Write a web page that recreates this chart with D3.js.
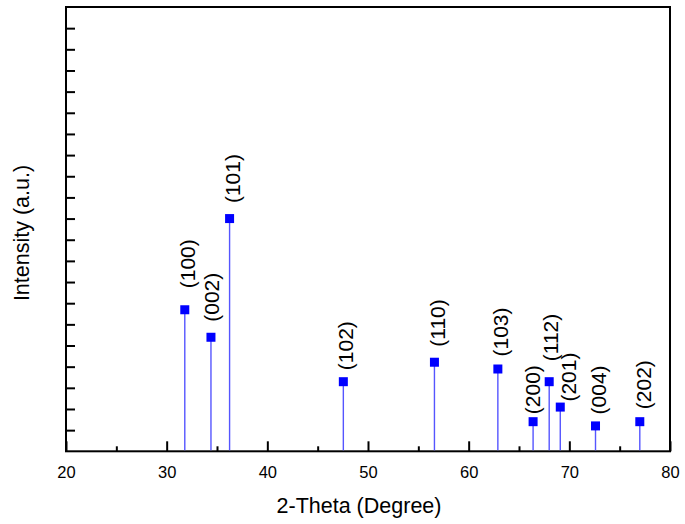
<!DOCTYPE html>
<html>
<head>
<meta charset="utf-8">
<script src="https://cdn.jsdelivr.net/npm/d3@7/dist/d3.min.js"></script>
<style>
  html, body { margin: 0; padding: 0; background: #fff; }
  svg { display: block; font-family: "Liberation Sans", Arial, sans-serif; }
</style>
</head>
<body>
<svg id="chart" width="685" height="524"></svg>
<script>
// ---- data ----
const planes = ["(100)", "(002)", "(101)", "(102)", "(110)", "(103)", "(200)", "(112)", "(201)", "(004)", "(202)"];
const twoTheta = [31.8, 34.4, 36.25, 47.55, 56.6, 62.9, 66.4, 68.0, 69.1, 72.6, 77.0];
const intensity = [6.69, 5.39, 11.0, 3.29, 4.21, 3.89, 1.40, 3.29, 2.09, 1.20, 1.40];
const xTicks = [20, 30, 40, 50, 60, 70, 80];
const xMinorTicks = [25, 35, 45, 55, 65, 75];
const yTicks = d3.range(1, 21);

// ---- layout (label nudges in px, not data) ----
const labelNudge = {
  "(100)": [0, -8], "(002)": [-2, -2], "(101)": [0, -2], "(102)": [0, 2],
  "(110)": [1, -2], "(103)": [0, 1], "(200)": [-3, 6], "(112)": [-1, -7],
  "(201)": [6, 8], "(004)": [0, 2], "(202)": [1, 1]
};

const svg = d3.select("#chart");
const L = 66, R = 670, T = 7, B = 451.3;
const x = d3.scaleLinear().domain([20, 80]).range([L, R]);
const y = d3.scaleLinear().domain([0, 21]).range([B, T]);

// y ticks (inward)
svg.append("g")
  .attr("transform", `translate(${L},0)`)
  .call(d3.axisLeft(y).tickValues(yTicks).tickSize(-9).tickFormat(""))
  .call(g => g.select(".domain").remove())
  .call(g => g.selectAll("line").attr("stroke", "#000").attr("stroke-width", 2));

// x major ticks (inward)
svg.append("g")
  .attr("transform", `translate(0,${B})`)
  .call(d3.axisBottom(x).tickValues(xTicks).tickSize(-10).tickPadding(15).tickFormat(d3.format("d")))
  .call(g => g.select(".domain").remove())
  .call(g => g.selectAll("line").attr("stroke", "#000").attr("stroke-width", 2))
  .call(g => g.selectAll("text").attr("font-size", 16.5).attr("fill", "#000")
        .attr("font-family", "Liberation Sans, Arial, sans-serif"));

// x minor ticks
svg.append("g")
  .attr("transform", `translate(0,${B})`)
  .call(d3.axisBottom(x).tickValues(xMinorTicks).tickSize(-5).tickFormat(""))
  .call(g => g.select(".domain").remove())
  .call(g => g.selectAll("line").attr("stroke", "#000").attr("stroke-width", 2));

// frame
svg.append("rect")
  .attr("x", L).attr("y", T).attr("width", R - L).attr("height", B - T)
  .attr("fill", "none").attr("stroke", "#000").attr("stroke-width", 2);

const peaks = planes.map((p, i) => ({ p, tt: twoTheta[i], v: intensity[i] }));

// stems
svg.append("g").selectAll("line").data(peaks).join("line")
  .attr("x1", d => x(d.tt)).attr("x2", d => x(d.tt))
  .attr("y1", B - 1).attr("y2", d => y(d.v))
  .attr("stroke", "#5555ff").attr("stroke-width", 1.4);

// markers
svg.append("g").selectAll("rect").data(peaks).join("rect")
  .attr("x", d => x(d.tt) - 4.5).attr("y", d => y(d.v) - 4.5)
  .attr("width", 9).attr("height", 9)
  .attr("fill", "#0000ff");

// labels
svg.append("g").selectAll("text").data(peaks).join("text")
  .attr("transform", d => {
    const n = labelNudge[d.p] || [0, 0];
    return `translate(${x(d.tt) + 10 + n[0]},${y(d.v) - 13.5 + n[1]}) rotate(-90)`;
  })
  .attr("text-anchor", "start")
  .attr("font-size", 21)
  .attr("fill", "#000")
  .text(d => d.p);

// axis titles
svg.append("text")
  .attr("x", 359).attr("y", 513)
  .attr("text-anchor", "middle")
  .attr("font-size", 21.5)
  .attr("fill", "#000")
  .text("2-Theta (Degree)");

svg.append("text")
  .attr("transform", "translate(29,233) rotate(-90)")
  .attr("text-anchor", "middle")
  .attr("font-size", 21.5)
  .attr("fill", "#000")
  .text("Intensity (a.u.)");
</script>
</body>
</html>
